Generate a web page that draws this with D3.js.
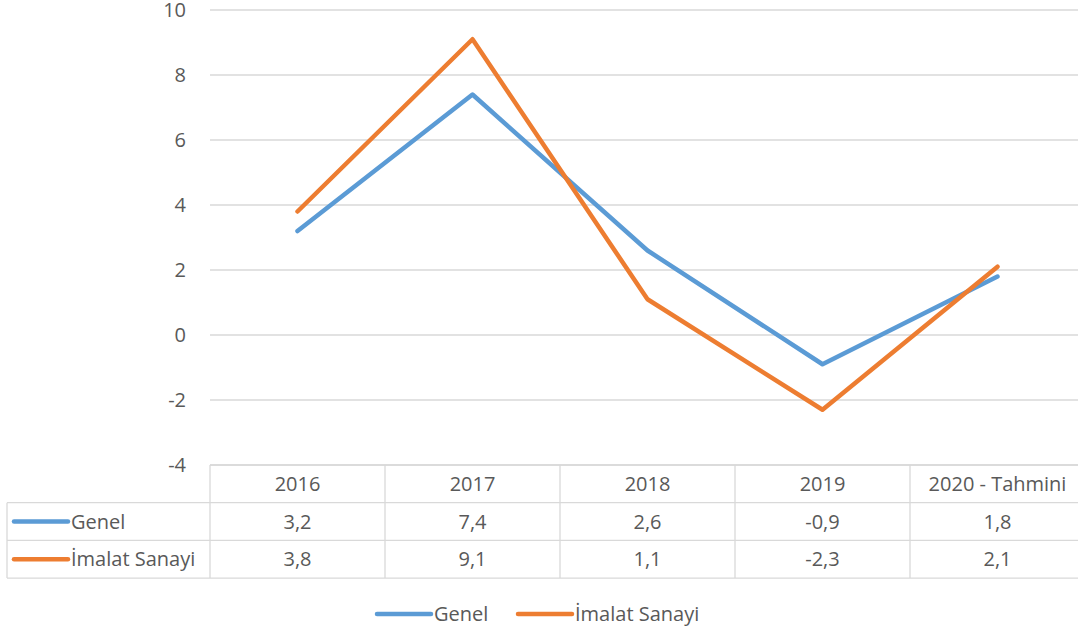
<!DOCTYPE html>
<html lang="tr">
<head>
<meta charset="UTF-8">
<title>Genel ve İmalat Sanayi</title>
<script src="https://cdn.jsdelivr.net/npm/d3@7"></script>
<style>
	body { margin: 0; background: #fff; }
	text { font-family: "Open Sans", "Noto Sans", sans-serif; fill: #595959; font-size: 20px; }
</style>
</head>
<body>
<script>
	var years = ['2016', '2017', '2018', '2019', '2020 - Tahmini'];
	var genel = [3.2, 7.4, 2.6, -0.9, 1.8];
	var imalat = [3.8, 9.1, 1.1, -2.3, 2.1];
	var seriesNames = ['Genel', 'İmalat Sanayi'];
	var seriesColors = ['#5b9bd5', '#ed7d31'];
	var yTicks = [-4, -2, 0, 2, 4, 6, 8, 10];

	var W = 1078, H = 634;
	var plotLeft = 210, plotRight = 1085, plotTop = 10, plotBottom = 465;
	var rowH = 37.7;
	var tableLeft = 7;

	var svg = d3.select('body').append('svg')
		.attr('width', W).attr('height', H);

	var x = d3.scaleBand().domain(years).range([plotLeft, plotRight]);
	var y = d3.scaleLinear().domain([-4, 10]).range([plotBottom, plotTop]);

	var fmt = function (v) { return String(v).replace('.', ','); };

	// gridlines
	svg.append('g').selectAll('line')
		.data(yTicks)
		.enter().append('line')
		.attr('x1', plotLeft).attr('x2', plotRight)
		.attr('y1', function (d) { return y(d); })
		.attr('y2', function (d) { return y(d); })
		.attr('stroke', '#d9d9d9').attr('stroke-width', 1.3);

	// y labels
	svg.append('g').selectAll('text')
		.data(yTicks)
		.enter().append('text')
		.attr('x', 186)
		.attr('y', function (d) { return y(d); })
		.attr('dy', '0.35em')
		.attr('text-anchor', 'end')
		.text(function (d) { return d; });

	// lines
	var line = d3.line()
		.x(function (d, i) { return x(years[i]) + x.bandwidth() / 2; })
		.y(function (d) { return y(d); });

	[genel, imalat].forEach(function (s, i) {
		svg.append('path')
			.datum(s)
			.attr('d', line)
			.attr('fill', 'none')
			.attr('stroke', seriesColors[i])
			.attr('stroke-width', 4.5)
			.attr('stroke-linejoin', 'round')
			.attr('stroke-linecap', 'round');
	});

	// data table
	var table = svg.append('g');
	var gridColor = '#d9d9d9';
	table.append('line')
		.attr('x1', plotLeft).attr('x2', plotRight)
		.attr('y1', plotBottom).attr('y2', plotBottom)
		.attr('stroke', gridColor).attr('stroke-width', 1.3);
	[1, 2, 3].forEach(function (r) {
		table.append('line')
			.attr('x1', tableLeft).attr('x2', plotRight)
			.attr('y1', plotBottom + r * rowH).attr('y2', plotBottom + r * rowH)
			.attr('stroke', gridColor).attr('stroke-width', 1.3);
	});
	table.append('line')
		.attr('x1', tableLeft).attr('x2', tableLeft)
		.attr('y1', plotBottom + rowH).attr('y2', plotBottom + 3 * rowH)
		.attr('stroke', gridColor).attr('stroke-width', 1.3);
	years.forEach(function (yr) {
		table.append('line')
			.attr('x1', x(yr)).attr('x2', x(yr))
			.attr('y1', plotBottom).attr('y2', plotBottom + 3 * rowH)
			.attr('stroke', gridColor).attr('stroke-width', 1.3);
	});

	// header
	table.selectAll('.hdr')
		.data(years)
		.enter().append('text')
		.attr('class', 'hdr')
		.attr('x', function (d) { return x(d) + x.bandwidth() / 2; })
		.attr('y', plotBottom + rowH / 2)
		.attr('dy', '0.35em')
		.attr('text-anchor', 'middle')
		.text(function (d) { return d; });

	[genel, imalat].forEach(function (s, i) {
		var cy = plotBottom + (i + 1.5) * rowH;
		table.append('line')
			.attr('x1', 14).attr('x2', 68)
			.attr('y1', cy).attr('y2', cy)
			.attr('stroke', seriesColors[i]).attr('stroke-width', 4.5)
			.attr('stroke-linecap', 'round');
		table.append('text')
			.attr('x', 71).attr('y', cy)
			.attr('dy', '0.35em')
			.text(seriesNames[i]);
		table.selectAll('.v' + i)
			.data(s)
			.enter().append('text')
			.attr('class', 'v' + i)
			.attr('x', function (d, j) { return x(years[j]) + x.bandwidth() / 2; })
			.attr('y', cy)
			.attr('dy', '0.35em')
			.attr('text-anchor', 'middle')
			.text(function (d) { return fmt(d); });
	});

	// legend
	var legendX = [377, 518];
	var legend = svg.append('g');
	seriesNames.forEach(function (n, i) {
		legend.append('line')
			.attr('x1', legendX[i]).attr('x2', legendX[i] + 54)
			.attr('y1', 614).attr('y2', 614)
			.attr('stroke', seriesColors[i]).attr('stroke-width', 4.5)
			.attr('stroke-linecap', 'round');
		legend.append('text')
			.attr('x', legendX[i] + 57).attr('y', 614)
			.attr('dy', '0.35em')
			.text(n);
	});
</script>
</body>
</html>
